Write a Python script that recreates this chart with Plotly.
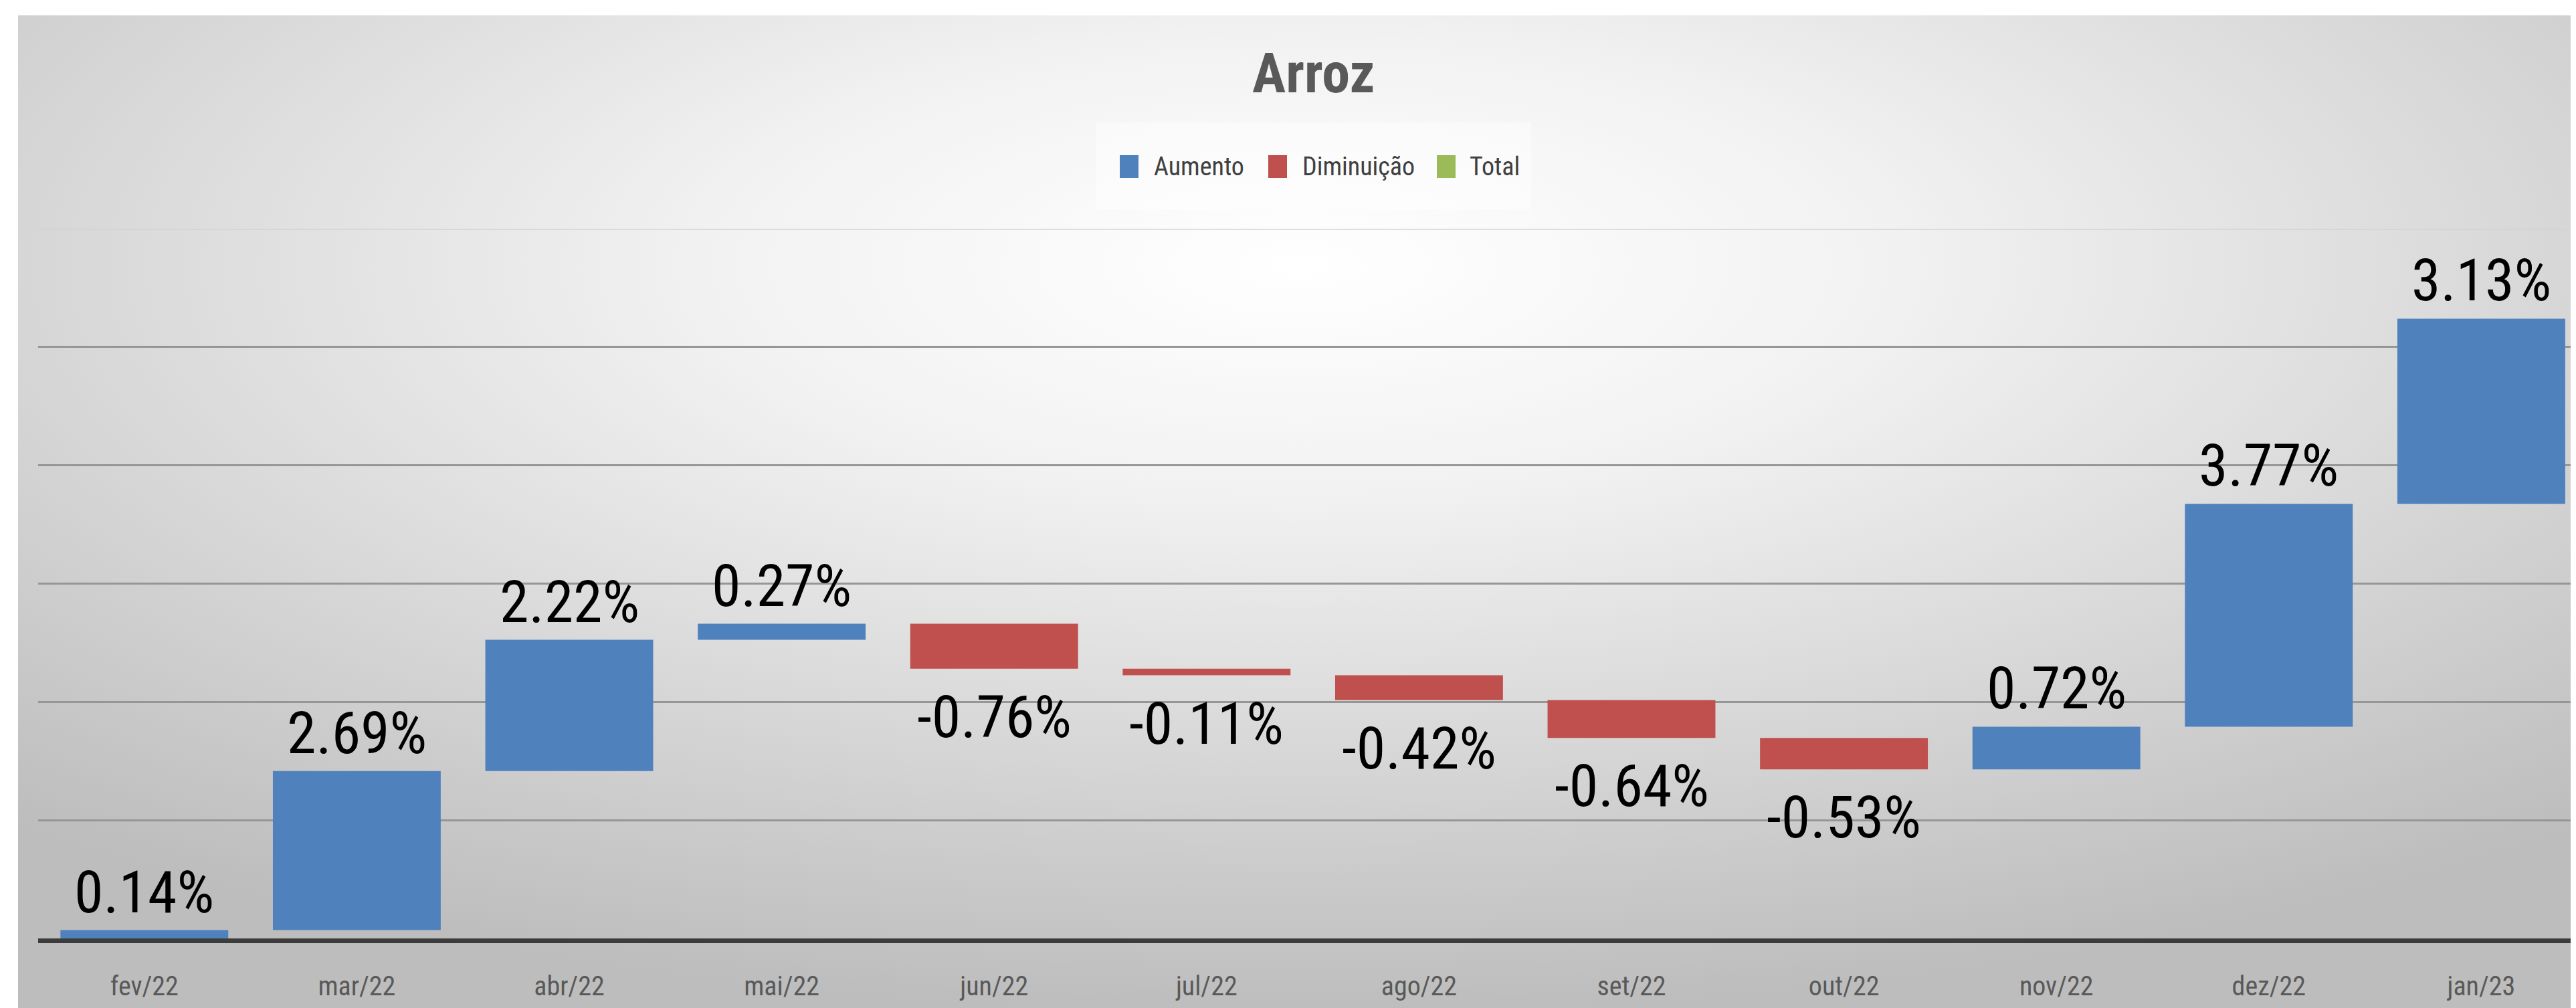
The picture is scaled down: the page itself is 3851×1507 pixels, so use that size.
import base64
import plotly.graph_objects as go

# ---------------- data ----------------
categories = ["fev/22", "mar/22", "abr/22", "mai/22", "jun/22", "jul/22",
              "ago/22", "set/22", "out/22", "nov/22", "dez/22", "jan/23"]
variation = [0.14, 2.69, 2.22, 0.27, -0.76, -0.11, -0.42, -0.64, -0.53, 0.72, 3.77, 3.13]
legend_names = ["Aumento", "Diminuição", "Total"]
title_text = "Arroz"
y_max = 12

# ---------------- style ----------------
W, H = 3851, 1507
ML, MR, MT, MB = 49, 0, 334, 112
PW, PH = W - ML - MR, H - MT - MB
CAT_STEP = 317.6
C_UP, C_DOWN, C_TOT = "#4f81bd", "#c0504d", "#9bbb59"
FONT = "Liberation Sans Narrow, Arial Narrow, Roboto Condensed, DejaVu Sans Condensed, Lato, sans-serif"


def px(xp):
    return (xp - ML) / PW


def py(yp):
    return (H - MB - yp) / PH


# cumulative starts
starts = []
acc = 0.0
for v in variation:
    starts.append(acc)
    acc += v

up_x = [c for c, v in zip(categories, variation) if v > 0]
up_base = [s for s, v in zip(starts, variation) if v > 0]
up_y = [v for v in variation if v > 0]
dn_x = [c for c, v in zip(categories, variation) if v < 0]
dn_base = [s for s, v in zip(starts, variation) if v < 0]
dn_y = [v for v in variation if v < 0]

fig = go.Figure()
fig.add_trace(go.Bar(x=up_x, y=up_y, base=up_base, name=legend_names[0],
                     marker=dict(color=C_UP, line=dict(width=0)), showlegend=False))
fig.add_trace(go.Bar(x=dn_x, y=dn_y, base=dn_base, name=legend_names[1],
                     marker=dict(color=C_DOWN, line=dict(width=0)), showlegend=False))

annotations = []
for c, s, v in zip(categories, starts, variation):
    end = s + v
    if v >= 0:
        annotations.append(dict(x=c, y=end, xref="x", yref="y", text=f"{v:.2f}%",
                                showarrow=False, yanchor="bottom", yshift=4,
                                font=dict(family=FONT, size=88, color="#000000")))
    else:
        annotations.append(dict(x=c, y=end, xref="x", yref="y", text=f"{v:.2f}%",
                                showarrow=False, yanchor="top", yshift=-18,
                                font=dict(family=FONT, size=88, color="#000000")))

# title
annotations.append(dict(x=px(1955), y=py(102), xref="paper", yref="paper",
                        text=f"<b>{title_text}</b>", showarrow=False,
                        xanchor="center", yanchor="middle",
                        font=dict(family=FONT, size=84, color="#595959")))

# manual legend
shapes = [dict(type="rect", xref="paper", yref="paper", x0=px(1631), x1=px(2281),
               y0=py(305), y1=py(175), fillcolor="rgba(255,255,255,0.45)",
               line=dict(width=0), layer="below"),
          # lighter top gridline
          dict(type="line", xref="paper", yref="y", x0=0, x1=1, y0=y_max, y1=y_max,
               line=dict(color="#d2d2d2", width=3), layer="below")]
leg_items = [(legend_names[0], C_UP, 1666, 1715),
             (legend_names[1], C_DOWN, 1888, 1937),
             (legend_names[2], C_TOT, 2140, 2187)]
for name, col, sx, tx in leg_items:
    shapes.append(dict(type="rect", xref="paper", yref="paper", x0=px(sx), x1=px(sx + 28),
                       y0=py(258), y1=py(224), fillcolor=col, line=dict(width=0)))
    annotations.append(dict(x=px(tx), y=py(241), xref="paper", yref="paper", text=name,
                            showarrow=False, xanchor="left", yanchor="middle",
                            font=dict(family=FONT, size=38, color="#404040")))

# background gradient
svg = ('<svg xmlns="http://www.w3.org/2000/svg" width="3832" height="1492" preserveAspectRatio="none">'
       '<defs><radialGradient id="g" cx="0.5" cy="0.25" r="0.75">'
       '<stop offset="0" stop-color="#ffffff"/><stop offset="0.3" stop-color="#f2f2f2"/>'
       '<stop offset="0.85" stop-color="#c8c8c8"/><stop offset="1" stop-color="#bdbdbd"/>'
       '</radialGradient></defs><rect width="100%" height="100%" fill="url(#g)"/></svg>')
src = "data:image/svg+xml;base64," + base64.b64encode(svg.encode()).decode()
images = [dict(source=src, xref="paper", yref="paper", x=px(19), y=py(15),
               sizex=(W - 19) / PW, sizey=(H - 15) / PH, xanchor="left", yanchor="top",
               sizing="stretch", layer="below")]

fig.update_layout(
    width=W, height=H, autosize=False,
    margin=dict(l=ML, r=MR, t=MT, b=MB, pad=0),
    paper_bgcolor="#ffffff", plot_bgcolor="rgba(0,0,0,0)",
    barmode="overlay", bargap=0.21,
    showlegend=False,
    annotations=annotations, shapes=shapes, images=images,
    xaxis=dict(type="category", categoryorder="array", categoryarray=categories,
               range=[-0.5, -0.5 + PW / CAT_STEP], showgrid=False,
               showline=True, linecolor="#3c3c3c", linewidth=7, ticks="",
               ticklabelstandoff=30,
               tickfont=dict(family=FONT, size=40, color="#595959")),
    yaxis=dict(range=[0, y_max], dtick=2, showticklabels=False, showgrid=True,
               gridcolor="#969696", gridwidth=3, zeroline=False, showline=False),
)

fig.write_html("out.html")
